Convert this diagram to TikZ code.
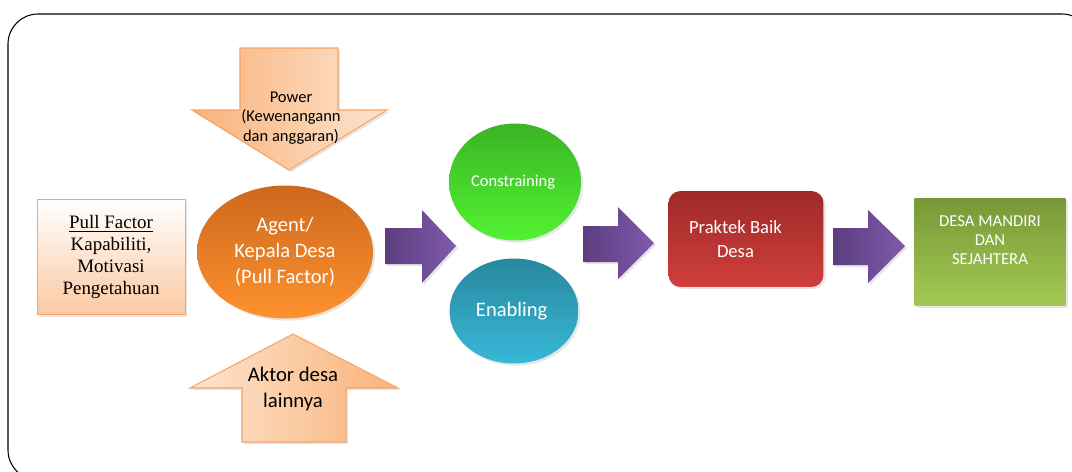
\documentclass[tikz,border=0pt]{standalone}
\usepackage{fontspec}
\setmainfont{Liberation Serif}
\newfontfamily\calib{Carlito}
\usetikzlibrary{shapes, shadows, positioning}

\definecolor{peachdark}{RGB}{249,178,122}
\definecolor{peachlight}{RGB}{253,228,206}
\definecolor{peachline}{RGB}{246,164,104}
\definecolor{purpleA}{RGB}{92,62,128}
\definecolor{purpleB}{RGB}{128,90,170}

\begin{document}
\begin{tikzpicture}[x=0.02cm, y=-0.02cm,
	softshadow/.style={drop shadow={opacity=0.2, shadow xshift=1.2pt, shadow yshift=-1.2pt}},
	blob/.style={ellipse, softshadow, text=white, align=center, inner sep=0pt},
	bigarrow/.style={left color=purpleA, right color=purpleB, softshadow},
	peacharrow/.style={draw=peachline, line width=0.6pt, softshadow}]
	\useasboundingbox (0,0) rectangle (1072,471);
	\clip (0,0) rectangle (1072,471);
	% outer frame
	\draw[line width=0.6pt, rounded corners=0.6cm] (8,14) rectangle (1092,480);
	
	% left box
	\node[draw=peachline,
	top color=white, bottom color=peachdark!70,
	minimum width=2.96cm,
	minimum height=2.3cm,
	softshadow,
	align=center,
	font=\fontsize{10.8}{12.5}\selectfont] (pull) at (111,257) {
	\underline{Pull Factor}\\Kapabiliti,\\Motivasi\\Pengetahuan
	};
	
	% agent
	\node[blob,
	top color={rgb,255:red,205;green,104;blue,30},
	bottom color={rgb,255:red,255;green,146;blue,46},
	minimum width=3.52cm,
	minimum height=2.66cm,
	font=\calib\fontsize{11.7}{14.7}\selectfont] (agent) at (285,252) {
	Agent/\\Kepala Desa\\(Pull Factor)
	};
	
	% power arrow and actor arrow
	\shade[peacharrow, left color=peachdark, right color=peachlight]
	(240,48) -- (338,48) -- (338,110) -- (387,110) -- (289,170) -- (192,110) -- (240,110) -- cycle;
	\node[align=center, font=\calib\fontsize{9.4}{11.3}\selectfont] (power) at (291,118) {
	Power\\(Kewenangann\\dan anggaran)
	};
	\shade[peacharrow, left color=peachlight, right color=peachdark]
	(293,334) -- (398,388) -- (346,388) -- (346,442) -- (242,442) -- (242,388) -- (190,388) -- cycle;
	\node[align=center, font=\calib\fontsize{11.8}{14.7}\selectfont] (aktor) at (293,389) {
	Aktor desa\\lainnya
	};
	
	% constraining / enabling
	\node[blob,
	top color={rgb,255:red,58;green,180;blue,38},
	bottom color={rgb,255:red,82;green,242;blue,50},
	minimum width=2.64cm,
	minimum height=2.34cm,
	font=\calib\fontsize{9.4}{11}\selectfont] (constr) at (515,182) {
	Constraining
	};
	\node[blob,
	top color={rgb,255:red,40;green,136;blue,158},
	bottom color={rgb,255:red,56;green,184;blue,216},
	minimum width=2.58cm,
	minimum height=2.1cm,
	font=\calib\fontsize{11.7}{14}\selectfont] (enab) at (514,311) {
	Enabling
	};
	
	% praktek
	\node[rounded corners=0.24cm,
	top color={rgb,255:red,158;green,42;blue,40},
	bottom color={rgb,255:red,208;green,62;blue,60},
	minimum width=3.1cm,
	minimum height=1.92cm,
	softshadow,
	text=white,
	align=center,
	font=\calib\fontsize{10.6}{13.6}\selectfont] (praktek) at (746,239) {
	\hspace*{-12pt}Praktek Baik\\\hspace*{-12pt}Desa
	};
	
	% result
	\node[top color={rgb,255:red,120;green,152;blue,56},
	bottom color={rgb,255:red,162;green,202;blue,82},
	minimum width=3.02cm,
	minimum height=2.14cm,
	softshadow,
	text=white,
	align=center,
	font=\calib\fontsize{9.5}{10.8}\selectfont] (mandiri) at (990,252) {
	DESA MANDIRI\\DAN\\SEJAHTERA\\[3pt]
	};
	
	% Arrows
	\shade[bigarrow] (385,228) -- (422,228) -- (422,210) -- (456,246) -- (422,283) -- (422,264) -- (385,264) -- cycle;
	\shade[bigarrow] (583,226) -- (618,226) -- (618,207) -- (654,243) -- (618,279) -- (618,262) -- (583,262) -- cycle;
	\shade[bigarrow] (833,228) -- (868,228) -- (868,210) -- (905,246) -- (868,283) -- (868,265) -- (833,265) -- cycle;
\end{tikzpicture}
\end{document}
